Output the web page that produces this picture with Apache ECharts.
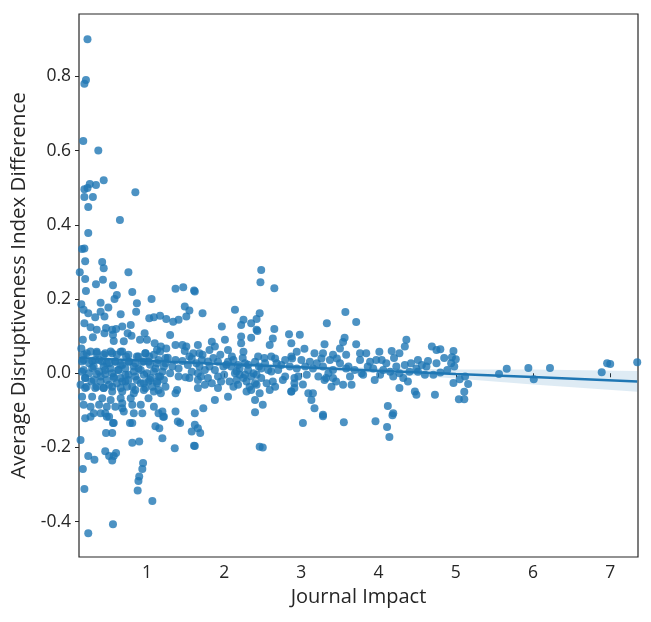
<!DOCTYPE html>
<html>
<head>
<meta charset="utf-8">
<script src="https://cdn.jsdelivr.net/npm/echarts@6/dist/echarts.min.js"></script>
<style>
html,body{margin:0;padding:0;background:#fff;}
#chart{width:651px;height:622px;}
</style>
</head>
<body>
<div id="chart"></div>
<script>
// ---- Data ----
// [journal impact, average disruptiveness index difference]
const highOutliers = [
  [0.23,0.90],[0.21,0.79],[0.19,0.78],[0.175,0.626],[0.37,0.60],[0.44,0.52],[0.26,0.51],[0.34,0.507],
  [0.19,0.496],[0.23,0.499],[0.19,0.475],[0.30,0.475],[0.85,0.488],[0.24,0.448],[0.65,0.413],[0.24,0.378],
  [0.16,0.335],[0.19,0.336],[0.20,0.302],[0.42,0.30],[0.44,0.283],[0.13,0.272],[0.76,0.272],[0.20,0.254],
  [0.43,0.252],[0.34,0.24],[0.56,0.237],[1.37,0.228],[1.47,0.232],[1.61,0.223],[2.47,0.245],[2.48,0.278],
  [2.65,0.229],[0.21,0.222],[0.81,0.219],[0.61,0.211],[0.58,0.20],[0.15,0.186],[0.40,0.19],[0.87,0.189],
  [1.06,0.20],[0.50,0.177],[0.18,0.171],[0.24,0.162],[0.40,0.166],[0.33,0.151],[0.45,0.153],[0.66,0.159],
  [0.86,0.166],[1.03,0.148],[1.09,0.151],[1.17,0.155],[1.25,0.146],[1.34,0.139],[1.41,0.144],[1.51,0.153],
  [1.55,0.169],[1.49,0.18],[1.62,0.22],[1.72,0.162],[0.19,0.135],[0.27,0.124],[0.35,0.117],[0.47,0.122],
  [0.55,0.117],[0.60,0.119],[0.68,0.126],[0.79,0.13],[0.75,0.108],[0.45,0.108],[0.56,0.104],[1.97,0.126],
  [2.14,0.171],[2.25,0.144],[2.22,0.13],[2.35,0.135],[2.42,0.117],[2.46,0.162],[1.30,0.103],[0.97,0.108],
  [3.57,0.165],[3.71,0.138],[3.33,0.135],[2.42,0.146],[2.43,0.114],[2.65,0.119],[2.84,0.105]
];
const lowOutliers = [
  [0.14,-0.18],[0.17,-0.258],[0.19,-0.312],[0.24,-0.223],[0.24,-0.431],[0.32,-0.233],[0.46,-0.21],
  [0.51,-0.223],[0.57,-0.223],[0.60,-0.215],[0.55,-0.235],[0.56,-0.407],[0.81,-0.187],[0.90,-0.184],
  [0.95,-0.242],[0.94,-0.258],[0.90,-0.278],[0.89,-0.29],[0.88,-0.316],[1.07,-0.344],[1.36,-0.202],
  [2.46,-0.198],[0.20,-0.121],[0.27,-0.117],[0.48,-0.117],[0.56,-0.134],[0.55,-0.161],[0.47,-0.161],
  [0.78,-0.134],[1.21,-0.117],[1.16,-0.148],[1.20,-0.175],[1.40,-0.13],[1.43,-0.134],[1.58,-0.157],
  [1.62,-0.139],[1.66,-0.148],[1.69,-0.161],[1.61,-0.195],[1.62,-0.196],[2.50,-0.20],[3.55,-0.132],
  [3.02,-0.134],[3.28,-0.116],[3.96,-0.129],[4.11,-0.145],[4.14,-0.172],[4.18,-0.113],
  [0.68,-0.094],[1.15,-0.108],[1.22,-0.117],[0.40,-0.108],[0.51,-0.117],[0.57,-0.134],[0.94,-0.108],
  [1.11,-0.143],[0.81,-0.134]
];
const bandLowImpact = [
  [0.17,0.09],[0.30,0.097],[0.57,0.087],[0.70,0.086],[0.80,0.101],[0.91,0.09],[1.00,0.09],[1.10,0.081],
  [1.18,0.072],[1.25,0.067],[1.37,0.076],[1.46,0.076],[1.49,0.06],[0.15,0.067],[0.22,0.054],[0.35,0.058],
  [0.46,0.054],[0.55,0.054],[0.66,0.058],[0.73,0.045],[0.87,0.045],[0.98,0.054],[1.03,0.045],[1.13,0.063],
  [1.27,0.042],[1.37,0.036],[1.46,0.033],[0.18,0.036],[0.29,0.033],[0.38,0.036],[0.48,0.027],[0.59,0.031],
  [0.68,0.022],[0.77,0.031],[0.94,0.031],[1.02,0.031],[1.15,0.036],[1.24,0.027],[1.33,0.018],[1.41,0.013],
  [0.31,0.018],[0.44,0.018],[0.53,0.013],[0.63,0.009],[0.72,0.013],[0.83,0.018],[0.89,0.013],[1.11,0.013],
  [1.20,0.004],[1.30,0.0],[1.41,-0.009],[1.50,-0.011],[0.16,0.004],[0.25,0.0],[0.35,-0.002],[0.46,-0.002],
  [0.57,-0.009],[0.66,-0.013],[0.76,-0.004],[0.85,-0.009],[0.96,-0.004],[1.05,-0.013],[1.15,-0.009],
  [0.20,-0.013],[0.28,-0.022],[0.40,-0.022],[0.51,-0.031],[0.61,-0.027],[0.72,-0.022],[0.81,-0.036],
  [0.92,-0.027],[1.02,-0.022],[1.13,-0.027],[1.24,-0.036],[0.14,-0.031],[0.20,-0.04],[0.33,-0.04],
  [0.44,-0.04],[0.55,-0.049],[0.68,-0.049],[0.83,-0.054],[0.96,-0.045],[1.09,-0.049],[0.16,-0.063],
  [0.29,-0.063],[0.42,-0.067],[0.53,-0.072],[0.66,-0.067],[0.79,-0.067],[1.02,-0.067],[1.18,-0.054],
  [1.39,-0.045],[1.37,-0.054],[0.27,-0.09],[0.38,-0.085],[0.48,-0.09],[0.59,-0.09],[0.68,-0.081],
  [0.81,-0.085],[0.92,-0.085],[1.09,-0.09],[1.20,-0.103],[1.37,-0.103],[0.18,-0.085],[0.31,-0.108],
  [0.70,-0.103],[0.83,-0.108],[0.46,-0.108]
];
const coreLowImpact = [
  [0.18,0.05],[0.27,0.059],[0.35,0.054],[0.44,0.05],[0.53,0.059],[0.61,0.05],[0.68,0.059],[0.76,0.05],
  [0.89,0.045],[0.98,0.054],[1.09,0.05],[1.17,0.059],[1.24,0.041],[0.16,0.032],[0.25,0.027],[0.33,0.036],
  [0.42,0.032],[0.51,0.027],[0.59,0.032],[0.66,0.023],[0.76,0.032],[0.85,0.027],[0.96,0.032],[1.04,0.023],
  [1.13,0.027],[1.22,0.018],[0.18,0.009],[0.29,0.014],[0.38,0.005],[0.46,0.009],[0.55,0.0],[0.63,0.009],
  [0.72,-0.004],[0.83,0.005],[0.92,0.009],[1.00,0.0],[1.09,0.005],[1.17,-0.009],[0.20,-0.013],[0.31,-0.018],
  [0.40,-0.009],[0.48,-0.018],[0.57,-0.013],[0.68,-0.022],[0.76,-0.018],[0.87,-0.018],[0.96,-0.027],
  [1.04,-0.018],[1.13,-0.022],[1.22,-0.018],[0.22,-0.036],[0.35,-0.036],[0.44,-0.04],[0.55,-0.036],
  [0.66,-0.04],[0.74,-0.036],[0.85,-0.045],[0.98,-0.04],[1.07,-0.036],[1.15,-0.045]
];
const bandMidImpact = [
  [1.51,0.072],[1.66,0.076],[1.84,0.085],[2.01,0.09],[2.22,0.099],[2.35,0.096],[2.63,0.094],[2.22,0.081],
  [2.59,0.076],[2.87,0.081],[1.60,0.054],[1.68,0.054],[1.81,0.063],[1.88,0.072],[2.05,0.063],[2.25,0.058],
  [2.44,0.045],[2.61,0.045],[2.66,0.04],[2.79,0.036],[2.87,0.045],[1.58,0.04],[1.71,0.036],[1.92,0.031],
  [2.05,0.031],[2.12,0.036],[2.18,0.022],[2.27,0.027],[2.40,0.031],[2.53,0.027],[2.68,0.027],[1.53,0.022],
  [1.68,0.018],[1.81,0.018],[1.99,0.018],[2.09,0.018],[2.20,0.013],[2.31,0.009],[2.48,0.013],[2.57,0.009],
  [2.74,0.022],[2.85,0.018],[1.58,0.004],[1.66,0.0],[1.75,0.009],[1.88,0.009],[1.92,-0.009],[2.14,0.0],
  [2.20,-0.004],[2.27,-0.004],[2.35,-0.009],[2.42,-0.004],[2.79,-0.009],[1.55,-0.013],[1.66,-0.018],
  [1.79,-0.013],[1.96,-0.022],[2.07,-0.022],[2.16,-0.018],[2.29,-0.022],[2.40,-0.027],[2.55,-0.027],
  [2.63,-0.022],[2.91,-0.013],[1.66,-0.04],[1.75,-0.031],[1.92,-0.04],[2.12,-0.036],[2.29,-0.049],
  [2.35,-0.045],[2.42,-0.031],[2.46,-0.054],[2.59,-0.045],[2.87,-0.049],[2.05,-0.063],[2.40,-0.072],
  [2.50,-0.085],[1.73,-0.094],[1.88,-0.072],[1.62,-0.108],[2.40,-0.105],[2.91,-0.04],
  [1.55,0.045],[1.64,0.027],[1.72,0.05],[1.79,0.032],[1.86,0.041],[1.95,0.05],[2.03,0.023],[2.10,0.045],
  [2.16,0.005],[2.24,0.041],[2.31,0.023],[2.38,0.0],[2.45,0.018],[2.52,0.041],[2.61,0.005],[2.70,0.009],
  [1.70,-0.009],[1.84,-0.027],[2.00,-0.004],[2.18,-0.031],[2.25,-0.013],[2.33,-0.036],[2.48,-0.013],
  [2.66,-0.036],[2.76,-0.018]
];
const bandHighImpact = [
  [2.98,0.104],[3.30,0.078],[3.56,0.096],[3.54,0.084],[3.71,0.078],[4.36,0.09],[4.34,0.072],[4.69,0.072],
  [4.75,0.063],[2.94,0.058],[3.04,0.066],[3.17,0.054],[3.28,0.054],[3.41,0.05],[3.50,0.067],[3.58,0.05],
  [3.76,0.054],[3.84,0.054],[4.01,0.058],[4.17,0.06],[4.27,0.054],[4.51,0.036],[4.64,0.033],[2.88,0.04],
  [3.00,0.036],[3.11,0.031],[3.26,0.04],[3.37,0.036],[3.50,0.027],[3.61,0.018],[3.76,0.036],[3.89,0.031],
  [3.97,0.036],[4.10,0.027],[4.23,0.018],[4.34,0.022],[4.49,0.013],[4.62,0.018],[4.75,0.027],[2.94,0.013],
  [3.15,0.013],[3.28,0.018],[3.41,0.009],[3.58,0.013],[3.78,0.0],[3.93,0.013],[4.06,0.009],[4.15,0.004],
  [4.27,0.0],[4.40,0.004],[4.51,0.004],[2.96,-0.009],[3.07,-0.004],[3.22,-0.009],[3.32,-0.013],
  [3.63,-0.009],[3.80,-0.004],[4.02,-0.004],[4.19,-0.009],[4.32,-0.013],[4.60,-0.004],[4.71,-0.004],
  [2.91,-0.027],[3.02,-0.03],[3.30,-0.018],[3.41,-0.013],[3.39,-0.036],[3.54,-0.031],[3.65,-0.031],
  [4.27,-0.04],[4.47,-0.049],[4.49,-0.058],[4.73,-0.058],[2.87,-0.049],[3.09,-0.054],[3.15,-0.054],
  [3.13,-0.072],[3.17,-0.094],[3.28,-0.112],[4.12,-0.088],[4.19,-0.108],
  [3.05,0.018],[3.20,0.027],[3.35,0.0],[3.46,0.04],[3.69,0.009],[3.86,0.018],[4.04,0.036],[4.20,0.041],
  [4.42,0.027],[4.56,0.022],[3.45,-0.022],[3.95,-0.018],[4.38,-0.022]
];
const topImpact = [
  [4.80,0.065],[4.85,0.041],[4.97,0.06],[4.95,0.043],[5.00,0.038],[4.94,0.027],[4.98,0.018],[4.89,0.009],
  [4.80,0.002],[4.97,-0.026],[5.05,-0.016],[5.12,-0.009],[5.16,-0.029],[5.11,-0.05],[5.04,-0.07],
  [5.11,-0.07],[5.56,-0.002],[5.66,0.012],[5.94,0.014],[6.01,-0.016],[6.22,0.014],[6.89,0.003],
  [6.96,0.027],[7.00,0.025],[7.35,0.03]
];
// regression line and 95% confidence band
const fitX    = [0.12, 1, 2, 3, 4, 5, 6, 7.35];
const fitY    = [0.041, 0.034, 0.025, 0.016, 0.007, -0.002, -0.010, -0.022];
const fitLow  = [0.026, 0.026, 0.020, 0.011, 0.000, -0.014, -0.030, -0.050];
const fitHigh = [0.056, 0.042, 0.030, 0.021, 0.014, 0.010, 0.010, 0.006];

const xTicks = [1, 2, 3, 4, 5, 6, 7];
const yTicks = [-0.4, -0.2, 0.0, 0.2, 0.4, 0.6, 0.8];

// ---- Chart ----
const points = [].concat(highOutliers, lowOutliers, bandLowImpact, coreLowImpact, bandMidImpact, bandHighImpact, topImpact);
const blue = '#1f77b4';
const font = '"Open Sans", "Noto Sans", sans-serif';
const chart = echarts.init(document.getElementById('chart'), null, {renderer: 'canvas'});
chart.setOption({
  animation: false,
  backgroundColor: '#ffffff',
  grid: {left: 79, right: 13, top: 14, bottom: 65, show: true, borderColor: '#262626', borderWidth: 1.2, backgroundColor: 'transparent'},
  xAxis: {
    type: 'value', min: 0.12, max: 7.36,
    name: 'Journal Impact', nameLocation: 'middle', nameGap: 30,
    nameTextStyle: {fontFamily: font, fontSize: 20, color: '#262626'},
    axisLine: {show: false},
    axisTick: {show: true, length: 4, lineStyle: {color: '#262626'}, customValues: xTicks},
    axisLabel: {fontFamily: font, fontSize: 17.5, color: '#262626', margin: 7, customValues: xTicks,
      formatter: v => String(v)},
    splitLine: {show: false}
  },
  yAxis: {
    type: 'value', min: -0.495, max: 0.968,
    name: 'Average Disruptiveness Index Difference', nameLocation: 'middle', nameGap: 44,
    nameTextStyle: {fontFamily: font, fontSize: 20.5, color: '#262626'},
    axisLine: {show: false},
    axisTick: {show: true, length: 4, lineStyle: {color: '#262626'}, customValues: yTicks},
    axisLabel: {fontFamily: font, fontSize: 17.5, color: '#262626', margin: 8, customValues: yTicks,
      formatter: v => v.toFixed(1)},
    splitLine: {show: false}
  },
  series: [
    {type: 'scatter', data: points, symbolSize: 8,
      itemStyle: {color: blue, opacity: 0.8}, z: 2},
    {type: 'custom', data: [0], z: 3, silent: true,
      renderItem: function (params, api) {
        const pts = [];
        for (let i = 0; i < fitX.length; i++) pts.push(api.coord([fitX[i], fitHigh[i]]));
        for (let i = fitX.length - 1; i >= 0; i--) pts.push(api.coord([fitX[i], fitLow[i]]));
        return {type: 'polygon', shape: {points: pts}, style: {fill: 'rgba(31,119,180,0.15)'}};
      }},
    {type: 'line', data: fitX.map((x, i) => [x, fitY[i]]), symbol: 'none',
      lineStyle: {color: blue, width: 2.5}, z: 4}
  ]
});
</script>
</body>
</html>
